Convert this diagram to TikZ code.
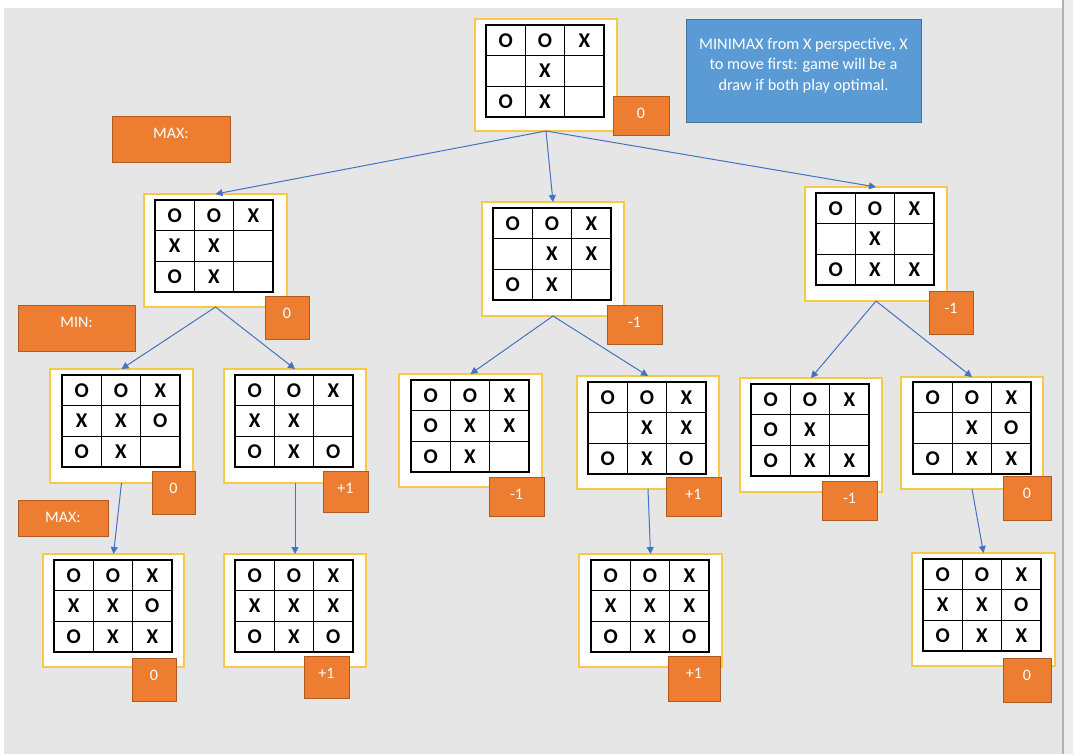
\documentclass[tikz,border=0pt]{standalone}
\usepackage{fontspec}
\setmainfont{Carlito}
\usetikzlibrary{arrows.meta}
\definecolor{bggray}{HTML}{E7E6E6}
\definecolor{oranje}{HTML}{ED7D31}
\definecolor{oranjeline}{HTML}{AE5A21}
\definecolor{bluefill}{HTML}{5B9BD5}
\definecolor{blueline}{HTML}{41719C}
\definecolor{arrowblue}{HTML}{4472C4}
\definecolor{frameyellow}{HTML}{F8C848}
\tikzset{
 frame/.style={draw=frameyellow, line width=1.1pt, fill=white, inner sep=0pt, outer sep=0pt},
 gridline/.style={line width=1.4pt, draw=black},
 cellsym/.style={font=\fontsize{21}{21}\selectfont\bfseries, inner sep=0pt, text=black},
 obox/.style={draw=oranjeline, line width=0.9pt, fill=oranje, inner sep=0pt, outer sep=0pt},
 otext/.style={font=\fontsize{16}{18}\selectfont, text=white, inner sep=0pt},
 infobox/.style={draw=blueline, line width=0.9pt, fill=bluefill, inner sep=0pt, outer sep=0pt},
 link/.style={draw=arrowblue, line width=1pt, -{Triangle[length=7pt,width=7pt]}},
}
\newcommand\tttboard[8]{%
 \node[frame, minimum width={(#4-#2)*1pt}, minimum height={(#5-#3)*1pt}] (#1) at ({(#2+#4)/2},{(#3+#5)/2}) {};
 \draw[gridline] (#6,#7) rectangle ++(118,92);
 \draw[gridline] ({#6+39.33},#7) -- ++(0,92) ({#6+78.67},#7) -- ++(0,92)
   (#6,{#7+30.67}) -- ++(118,0) (#6,{#7+61.33}) -- ++(118,0);
 \foreach \cc [count=\i from 0] in {#8} {
   \pgfmathtruncatemacro\col{mod(\i,3)}
   \pgfmathtruncatemacro\row{\i/3}
   \if\cc N\else
     \node[cellsym] (#1-\i) at ({#6+19.67+\col*39.33},{#7+15.33+\row*30.67}) {\cc};
   \fi
 }
}
\newcommand\valbox[6]{%
 \node[obox, minimum width={(#4-#2)*1pt}, minimum height={(#5-#3)*1pt}] (#1) at ({(#2+#4)/2},{(#3+#5)/2}) {};
 \node[otext] (#1-t) at ([yshift=-17pt]#1.north) {#6};
}
\begin{document}
\begin{tikzpicture}[x=1pt,y=-1pt]
\useasboundingbox (0,0) rectangle (1073,754);
\fill[white] (0,0) rectangle (1073,754);
\fill[bggray] (4,8) rectangle (1062,754);
\fill[black!7] (1064,0) rectangle (1073,754);
\draw[black!30, line width=1.5pt] (1063,0) -- (1063,754);

% boards
\tttboard{root}{475}{19}{617}{131}{486}{25}{O,O,X,N,X,N,O,X,N}
\tttboard{L}{144}{194}{287}{307}{155}{200}{O,O,X,X,X,N,O,X,N}
\tttboard{M}{482}{202}{624}{316}{493}{208}{O,O,X,N,X,X,O,X,N}
\tttboard{R}{805}{187}{947}{301}{816}{193}{O,O,X,N,X,N,O,X,X}
\tttboard{A}{50}{369}{193}{483}{62}{375}{O,O,X,X,X,O,O,X,N}
\tttboard{B}{224}{369}{366}{483}{235}{375}{O,O,X,X,X,N,O,X,O}
\tttboard{C}{399}{374}{542}{487}{411}{380}{O,O,X,O,X,X,O,X,N}
\tttboard{D}{577}{376}{719}{489}{588}{382}{O,O,X,N,X,X,O,X,O}
\tttboard{E}{740}{378}{882}{492}{751}{384}{O,O,X,O,X,N,O,X,X}
\tttboard{F}{901}{377}{1043}{489}{913}{382}{O,O,X,N,X,O,O,X,X}
\tttboard{G}{43}{554}{184}{667}{54}{560}{O,O,X,X,X,O,O,X,X}
\tttboard{H}{224}{554}{366}{667}{235}{560}{O,O,X,X,X,X,O,X,O}
\tttboard{I}{579}{554}{722}{667}{591}{560}{O,O,X,X,X,X,O,X,O}
\tttboard{J}{912}{553}{1055}{666}{923}{559}{O,O,X,X,X,O,O,X,X}

% value boxes
\valbox{vroot}{613}{96}{669}{135}{0}
\valbox{vL}{265}{296}{309}{339}{0}
\valbox{vM}{607}{305}{662}{344}{-1}
\valbox{vR}{929}{291}{973}{334}{-1}
\valbox{vA}{152}{471}{195}{514}{0}
\valbox{vB}{323}{471}{368}{512}{+1}
\valbox{vC}{489}{477}{544}{516}{-1}
\valbox{vD}{666}{477}{721}{516}{+1}
\valbox{vE}{822}{481}{877}{520}{-1}
\valbox{vF}{1003}{476}{1051}{520}{0}
\valbox{vG}{132}{658}{176}{701}{0}
\valbox{vH}{304}{656}{349}{698}{+1}
\valbox{vI}{668}{656}{720}{701}{+1}
\valbox{vJ}{1003}{658}{1051}{702}{0}

% level labels
\valbox{max1}{112}{116}{230}{162}{MAX:}
\valbox{min1}{18}{305}{135}{351}{MIN:}
\valbox{max2}{18}{500}{108}{536}{MAX:}

% info box
\node[infobox, minimum width=235pt, minimum height=103pt] (info) at (803.5,70.5) {};
\node[otext, align=center, font=\fontsize{16.3}{20.5}\selectfont] (info-t) at (803.5,65.5)
  {MINIMAX from X perspective, X\\to move first: game will be a\\draw if both play optimal.};

% connectors
\draw[link] (root.south) -- (L.north);
\draw[link] (root.south) -- (M.north);
\draw[link] (root.south) -- (R.north);
\draw[link] (L.south) -- (A.north);
\draw[link] (L.south) -- (B.north);
\draw[link] (M.south) -- (C.north);
\draw[link] (M.south) -- (D.north);
\draw[link] (R.south) -- (E.north);
\draw[link] (R.south) -- (F.north);
\draw[link] (A.south) -- (G.north);
\draw[link] (B.south) -- (H.north);
\draw[link] (D.south) -- (I.north);
\draw[link] (F.south) -- (J.north);
\end{tikzpicture}
\end{document}
